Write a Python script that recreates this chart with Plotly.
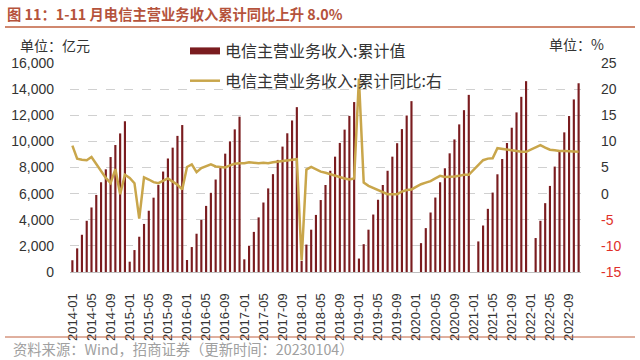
import plotly.graph_objects as go

# ---------------- data ----------------
years = [2014, 2015, 2016, 2017, 2018, 2019, 2020, 2021, 2022]
months = [f"{y}-{m:02d}" for y in years for m in range(1, 13)][:107]

# 电信主营业务收入:累计值 (亿元)
rev_2014 = [900, 1810, 2850, 3920, 4940, 5900, 6870, 7860, 8800, 9720, 10610, 11540]
rev_2015 = [790, 1680, 2700, 3680, 4690, 5690, 6670, 7690, 8690, 9520, 10420, 11250]
rev_2016 = [920, 1910, 2930, 3990, 5060, 6060, 7080, 7990, 9060, 10000, 10920, 11890]
rev_2017 = [970, 2010, 3070, 4180, 5320, 6400, 7490, 8580, 9600, 10620, 11600, 12620]
rev_2018 = [845, 2100, 3240, 4370, 5510, 6660, 7750, 8830, 9880, 10900, 11950, 13010]
rev_2019 = [1030, 2130, 3240, 4400, 5530, 6660, 7750, 8830, 9860, 10940, 11980, 13080]
rev_2020 = [None, 2210, 3360, 4555, 5700, 6870, 7940, 9085, 10150, 11300, 12390, 13560]
rev_2021 = [None, 2340, 3560, 4835, 6080, 7480, 8650, 9875, 11045, 12220, 13410, 14610]
rev_2022 = [None, 2600, 3920, 5270, 6590, 8070, 9265, 10690, 11940, 13210, 14450]

# 电信主营业务收入:累计同比 (%)
yoy_2014 = [9.2, 6.7, 6.5, 6.4, 7.0, 5.7, 4.3, 3.0, 2.0, 4.7, -0.1, 3.6]
yoy_2015 = [3.0, 2.0, -4.8, 3.1, 2.7, 2.2, 2.0, 2.4, 2.9, 2.3, 1.7, 0.8]
yoy_2016 = [5.1, 5.6, 4.1, 4.9, 5.3, 5.6, 5.2, 5.1, 5.0, 5.4, 5.7, 5.8]
yoy_2017 = [5.8, 6.0, 5.9, 5.8, 5.9, 5.8, 6.0, 6.1, 6.2, 6.4, 6.5, 6.6]
yoy_2018 = [-12.8, 4.6, 5.1, 4.6, 4.2, 4.0, 3.7, 3.4, 3.2, 2.9, 2.7, 2.9]
yoy_2019 = [22.0, 2.1, 1.5, 1.1, 0.6, 0.2, -0.1, -0.1, -0.1, 0.4, 0.7, 0.8]
yoy_2020 = [None, 1.8, 2.1, 2.4, 2.9, 3.4, 3.2, 3.2, 3.3, 3.4, 3.6, 3.6]
yoy_2021 = [None, 5.6, 6.4, 6.7, 6.75, 8.7, 8.6, 8.4, 8.3, 8.15, 8.0, 8.0]
yoy_2022 = [None, 8.8, 9.3, 8.8, 8.4, 8.3, 8.15, 8.15, 8.1, 8.0, 8.0]

revenue = (rev_2014 + rev_2015 + rev_2016 + rev_2017 + rev_2018 +
           rev_2019 + rev_2020 + rev_2021 + rev_2022)
yoy = (yoy_2014 + yoy_2015 + yoy_2016 + yoy_2017 + yoy_2018 +
       yoy_2019 + yoy_2020 + yoy_2021 + yoy_2022)

x_tick_labels = months[::4]
left_ticks = [0, 2000, 4000, 6000, 8000, 10000, 12000, 14000, 16000]
right_ticks = [-15, -10, -5, 0, 5, 10, 15, 20, 25]

# ---------------- style ----------------
BAR = "#7A1C1F"
LINE = "#C9A64B"
TXT = "#333333"
NEG = "#E0302A"
ACC = "#C0613F"
FONT = "Liberation Sans, Arial, Noto Sans CJK SC, sans-serif"
CJK = "Noto Sans CJK SC, sans-serif"

W, H = 640, 360
ML, MR, MT, MB = 70, 59, 63, 88
PW, PH = W - ML - MR, H - MT - MB


def px(xp):
    return (xp - ML) / PW


def py(yp):
    return (H - MB - yp) / PH


fig = go.Figure()
fig.add_trace(go.Bar(
    x=months, y=revenue, name="电信主营业务收入:累计值",
    marker=dict(color=BAR, line=dict(width=0)),
    legendgroup="rev", showlegend=False, yaxis="y"))
# legend swatch for the bars (wide box as in the reference)
fig.add_trace(go.Scatter(
    x=[None], y=[None], mode="lines", name="电信主营业务收入:累计值",
    line=dict(color=BAR, width=7), legendgroup="rev", yaxis="y"))
fig.add_trace(go.Scatter(
    x=months, y=yoy, name="电信主营业务收入:累计同比:右",
    mode="lines", line=dict(color=LINE, width=2.5), connectgaps=True,
    legendgroup="yoy", yaxis="y2"))

right_text = [f'<span style="color:{NEG}">{v}</span>' if v < 0 else str(v)
              for v in right_ticks]

fig.update_layout(
    width=W, height=H,
    margin=dict(l=ML, r=MR, t=MT, b=MB),
    paper_bgcolor="white", plot_bgcolor="white",
    font=dict(family=FONT, color=TXT, size=14),
    bargap=0.55,
    showlegend=True,
    legend=dict(x=px(185), y=py(34), xanchor="left", yanchor="top",
                font=dict(family=CJK, size=16, color=TXT),
                bgcolor="rgba(0,0,0,0)", tracegroupgap=6,
                itemwidth=30),
    xaxis=dict(type="category", categoryorder="array", categoryarray=months,
               tickmode="array", tickvals=x_tick_labels, ticktext=x_tick_labels,
               tickangle=-90, tickfont=dict(size=13, color=TXT),
               showgrid=False, showline=True, linecolor="#BFBFBF",
               ticks="", ticklabelstandoff=15, range=[-0.5, 106.5]),
    yaxis=dict(range=[0, 16000], tickvals=left_ticks,
               ticktext=[f"{v:,}" for v in left_ticks],
               showgrid=True, gridcolor="#D0D0D0", griddash="dash", gridwidth=1,
               zeroline=False, showline=False, tickfont=dict(size=14, color=TXT),
               ticklabelstandoff=15),
    yaxis2=dict(range=[-15, 25], tickvals=right_ticks, ticktext=right_text,
                overlaying="y", side="right", showgrid=False, zeroline=False,
                showline=False, tickfont=dict(size=14, color=TXT),
                ticklabelstandoff=19),
    shapes=[
        dict(type="line", xref="paper", yref="paper",
             x0=px(5), x1=px(635), y0=py(27), y1=py(27),
             line=dict(color=ACC, width=1.5)),
        dict(type="line", xref="paper", yref="paper",
             x0=px(5), x1=px(635), y0=py(337), y1=py(337),
             line=dict(color=ACC, width=1)),
    ],
    annotations=[
        dict(text="<b>图 11：1-11 月电信主营业务收入累计同比上升 8.0%</b>",
             xref="paper", yref="paper", x=px(5), y=py(13),
             xanchor="left", yanchor="middle", showarrow=False,
             font=dict(family=CJK, size=14.3, color="#B5533C")),
        dict(text="单位：亿元", xref="paper", yref="paper", x=px(18), y=py(45),
             xanchor="left", yanchor="middle", showarrow=False,
             font=dict(family=CJK, size=14, color=TXT)),
        dict(text="单位：%", xref="paper", yref="paper", x=px(606), y=py(44),
             xanchor="right", yanchor="middle", showarrow=False,
             font=dict(family=CJK, size=14, color=TXT)),
        dict(text="资料来源：Wind，招商证券（更新时间：20230104）",
             xref="paper", yref="paper", x=px(11), y=py(348),
             xanchor="left", yanchor="middle", showarrow=False,
             font=dict(family=CJK, size=14.3, color="#A0A0A0")),
    ],
)

fig.write_html(
    "out.html",
    config={"displayModeBar": False},
    post_script="document.body.style.margin='0px';document.body.style.padding='0px';",
)
